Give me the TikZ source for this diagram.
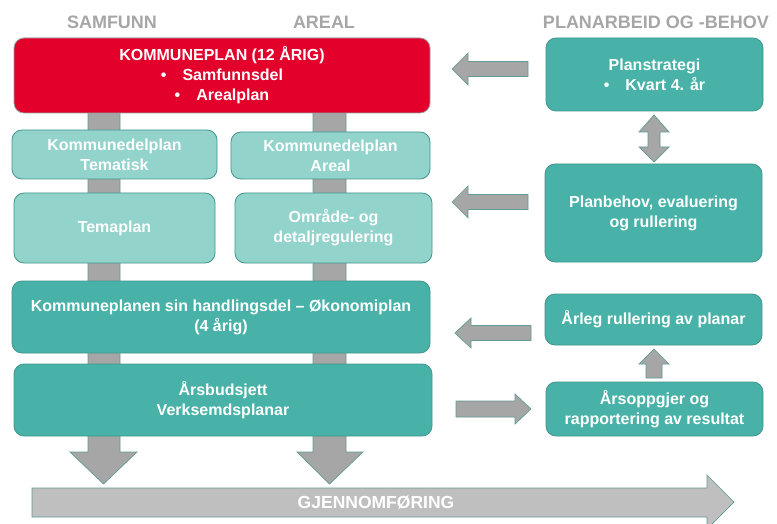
\documentclass[tikz,border=0pt]{standalone}
\usepackage{fontspec}
\setmainfont{Liberation Sans}
\definecolor{kred}{RGB}{227,0,43}
\definecolor{kteal}{RGB}{72,178,168}
\definecolor{klight}{RGB}{146,211,204}
\definecolor{kborder}{RGB}{66,150,140}
\definecolor{kgray}{RGB}{166,166,166}
\definecolor{kgray2}{RGB}{191,191,191}
\definecolor{khead}{RGB}{166,166,166}
\tikzset{
  box/.style={draw=kborder, line width=0.8pt, rounded corners=10pt, align=center,
    text=white, font=\bfseries\fontsize{16}{20}\selectfont, inner sep=0pt},
  darkbox/.style={box, fill=kteal},
  lightbox/.style={box, fill=klight},
  redbox/.style={box, fill=kred, draw=kgray!80!kborder},
  header/.style={text=khead, font=\bfseries\fontsize{18}{20}\selectfont},
  blockarrow/.style={fill=kgray, draw=kborder!70!kgray, line width=0.7pt, line join=miter},
}
\begin{document}
\begin{tikzpicture}[x=1pt,y=-1pt]
\useasboundingbox (0,0) rectangle (777,524);
% vertical gray bars behind the boxes
\draw[blockarrow] (88,105) -- (120,105) -- (120,452) -- (137,452) -- (103.5,484) -- (70,452) -- (88,452) -- cycle;
\draw[blockarrow] (313,105) -- (346,105) -- (346,452) -- (363,452) -- (329.5,484) -- (297,452) -- (313,452) -- cycle;
% headers
\node[header] (hs) at (112,22) {SAMFUNN};
\node[header] (ha) at (324,22) {AREAL};
\node[header] (hp) at (656,22) {PLANARBEID OG -BEHOV};
% left column boxes
\node[redbox, minimum width=416pt, minimum height=75pt] (kp) at (222,75.5)
  {KOMMUNEPLAN (12 ÅRIG)\\ \textbullet\hspace{16pt}Samfunnsdel\\ \textbullet\hspace{16pt}Arealplan};
\node[lightbox, minimum width=205pt, minimum height=49pt] (kdt) at (114.5,154.5) {Kommunedelplan\\Tematisk};
\node[lightbox, minimum width=199pt, minimum height=47pt] (kda) at (330.5,155.5) {Kommunedelplan\\Areal};
\node[lightbox, minimum width=201pt, minimum height=70pt] (tp) at (114.5,228) {Temaplan};
\node[lightbox, minimum width=197pt, minimum height=70pt] (od) at (333.5,228) {Område- og\\detaljregulering};
\node[darkbox, minimum width=418pt, minimum height=72pt] (hd) at (221,317)
  {Kommuneplanen sin handlingsdel – Økonomiplan\\(4 årig)};
\node[darkbox, minimum width=418pt, minimum height=72pt] (ab) at (223,400) {Årsbudsjett\\Verksemdsplanar};
% right column boxes
\node[darkbox, minimum width=217pt, minimum height=73pt] (ps) at (654.5,74.5)
  {Planstrategi\\ \textbullet\hspace{16pt}Kvart 4. år};
\node[darkbox, minimum width=217pt, minimum height=98pt] (pb) at (653.5,213)
  {Planbehov, evaluering\\og rullering};
\node[darkbox, minimum width=217pt, minimum height=51pt] (ar) at (653.5,319.5) {Årleg rullering av planar};
\node[darkbox, minimum width=217pt, minimum height=54pt] (ao) at (654.5,409)
  {Årsoppgjer og\\rapportering av resultat};
% horizontal block arrows
\draw[blockarrow] (528,61.5) -- (468,61.5) -- (468,53) -- (452,69) -- (468,85) -- (468,76.5) -- (528,76.5) -- cycle;
\draw[blockarrow] (528,194.5) -- (468,194.5) -- (468,186) -- (452,202) -- (468,218) -- (468,209.5) -- (528,209.5) -- cycle;
\draw[blockarrow] (531,325.5) -- (471,325.5) -- (471,318) -- (455,333) -- (471,348) -- (471,340.5) -- (531,340.5) -- cycle;
\draw[blockarrow] (456,401) -- (515,401) -- (515,394) -- (531,409) -- (515,424) -- (515,417) -- (456,417) -- cycle;
% vertical block arrows on the right
\draw[blockarrow] (654,115) -- (669,132) -- (660,132) -- (660,147) -- (669,147) -- (654,162) -- (639,147) -- (648,147) -- (648,132) -- (639,132) -- cycle;
\draw[blockarrow] (654,349) -- (669,364) -- (662,364) -- (662,378) -- (646,378) -- (646,364) -- (639,364) -- cycle;
% implementation arrow
\draw[blockarrow, fill=kgray2] (32,488) -- (707,488) -- (707,475) -- (734,502) -- (707,529) -- (707,517) -- (32,517) -- cycle;
\node[text=white, font=\bfseries\fontsize{17.5}{20}\selectfont] (gj) at (376,502.5) {GJENNOMFØRING};
\end{tikzpicture}
\end{document}
